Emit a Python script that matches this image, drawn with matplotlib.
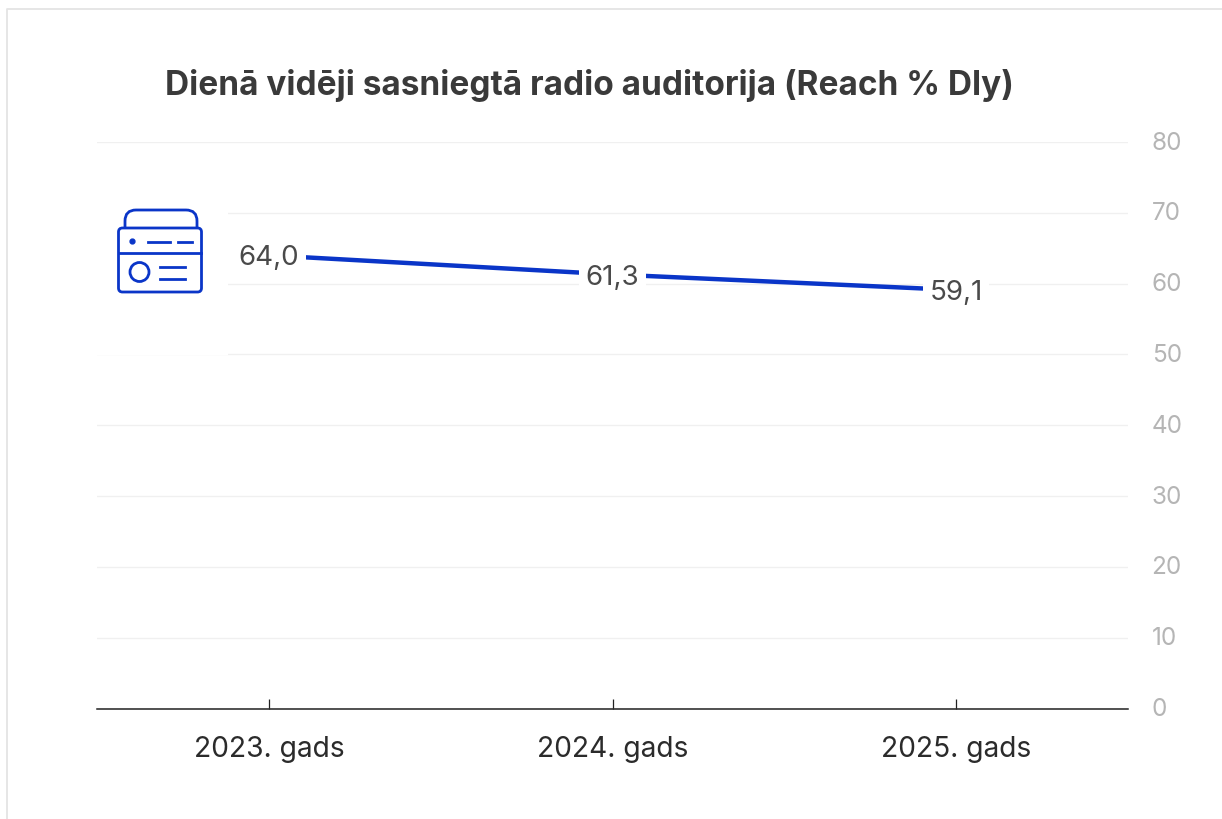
import matplotlib
matplotlib.use('Agg')
import matplotlib.pyplot as plt
from matplotlib.lines import Line2D
from matplotlib.path import Path
from matplotlib.patches import Circle, FancyBboxPatch, PathPatch, Rectangle

plt.rcParams['font.family'] = ['Inter', 'DejaVu Sans']

years = ['2023. gads', '2024. gads', '2025. gads']
reach = [64.0, 61.3, 59.1]
value_labels = ['64,0', '61,3', '59,1']
y_ticks = [0, 10, 20, 30, 40, 50, 60, 70, 80]

W, H = 1222, 820
BLUE = '#0a35c8'

fig = plt.figure(figsize=(W / 100, H / 100), dpi=100, facecolor='white')

# page frame, only top and left are visible in the crop
fig.add_artist(Line2D([7.5 / W, 7.5 / W, 1], [0, 1 - 9.5 / H, 1 - 9.5 / H],
                      color='#e4e4e4', lw=1.3))

# x positions are category slots, axes spans 97..1128 px
ax = fig.add_axes([97 / W, 1 - 709.5 / H, (1128 - 97) / W, (709.5 - 143) / H])
ax.set_xlim(-0.5, 2.5)
ax.set_ylim(0, 80)
ax.patch.set_alpha(0)
for s in ['top', 'left', 'right']:
    ax.spines[s].set_visible(False)
ax.spines['bottom'].set_color('#222222')
ax.spines['bottom'].set_linewidth(1.1)

ax.set_xticks(range(len(years)))
ax.set_xticklabels(years, fontsize=20.3, color='#2b2b2b')
ax.tick_params(axis='x', length=7, width=0.9, color='#222222', direction='out', pad=0)
ax.xaxis.set_ticks_position('bottom')
for t in ax.xaxis.get_major_ticks():
    t.tick1line.set_marker(2)  # tick goes up from the axis
    t.tick1line.set_markersize(7)
    t.label1.set_y(-0.03)
    t.label1.set_va('top')

ax.yaxis.tick_right()
ax.set_yticks(y_ticks)
ax.set_yticklabels([str(v) for v in y_ticks], fontsize=17.5, color='#b5b5b5', va='center')
ax.tick_params(axis='y', length=0, pad=17)
ax.grid(axis='y', color='#f0f0f0', lw=1)
ax.set_axisbelow(True)

ax.plot(range(len(years)), reach, color=BLUE, lw=3.2, solid_capstyle='butt', zorder=3)

for i, (v, lab) in enumerate(zip(reach, value_labels)):
    # text sits a bit under the line point in the reference
    ax.annotate(lab, (i, v), xytext=(0, -1.5), textcoords='offset points',
                ha='center', va='center', fontsize=20, color='#4a4a4a', zorder=4,
                bbox=dict(facecolor='white', edgecolor='none', pad=4.5))

fig.text(589 / W, 1 - 86 / H, 'Dienā vidēji sasniegtā radio auditorija (Reach % Dly)',
         ha='center', va='center', fontsize=24, fontweight='bold', color='#3a3a3a')

# icon sits on a white block that hides the grid, drawn in pixel coords
ic = fig.add_axes([0, 0, 1, 1], facecolor='none')
ic.set_xlim(0, W)
ic.set_ylim(H, 0)
ic.axis('off')
ic.add_patch(Rectangle((90, 180), 138, 175.5, fc='white', ec='none', zorder=1))
ic.add_patch(FancyBboxPatch((118.5, 229), 83, 64, boxstyle='round,pad=0,rounding_size=4',
                            fc='none', ec=BLUE, lw=2.0, zorder=2))
handle = Path([(125, 229), (125, 222), (125, 211), (136, 211), (186, 211), (197, 211), (197, 222), (197, 229)],
              [Path.MOVETO, Path.LINETO, Path.CURVE3, Path.CURVE3, Path.LINETO, Path.CURVE3, Path.CURVE3, Path.LINETO])
ic.add_patch(PathPatch(handle, fc='none', ec=BLUE, lw=2.0, zorder=2))
ic.plot([119, 201], [253.5, 253.5], color=BLUE, lw=2.0, zorder=2)
ic.add_patch(Circle((139.5, 273), 9.5, fc='none', ec=BLUE, lw=2.0, zorder=2))
for x0, x1, y in [(148, 170, 242.5), (178, 192, 242.5), (160, 185, 268), (160, 185, 279.5)]:
    ic.plot([x0, x1], [y, y], color=BLUE, lw=2.0, zorder=2)
ic.plot([132], [242], marker='o', ms=3.5, color=BLUE, zorder=2)

fig.savefig('out.png', dpi=100)
